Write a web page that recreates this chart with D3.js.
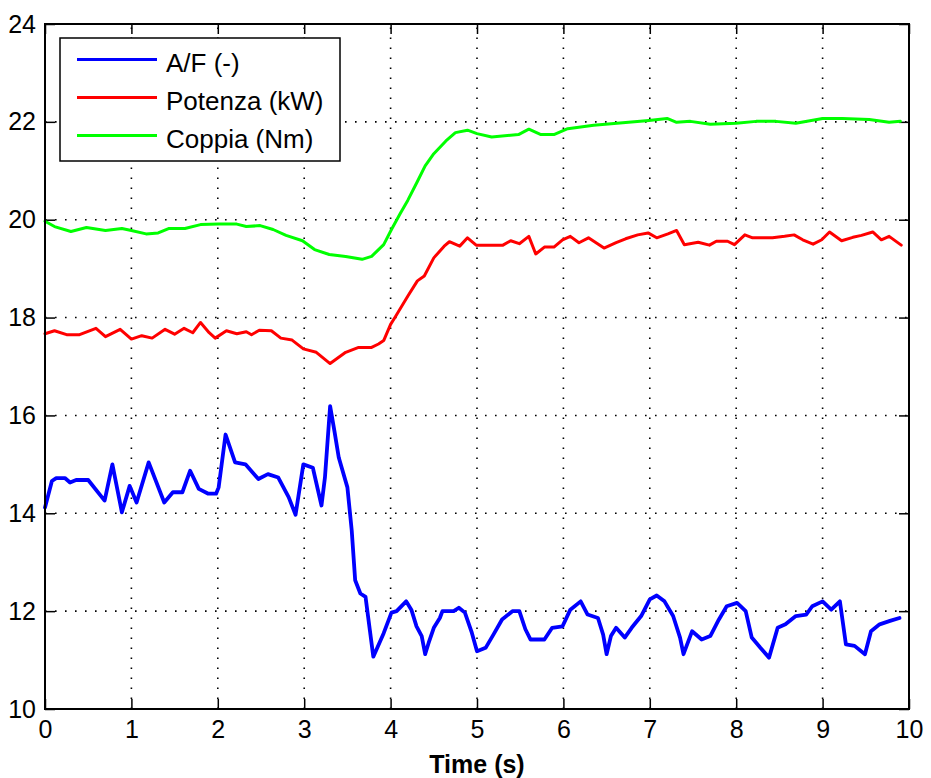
<!DOCTYPE html>
<html><head><meta charset="utf-8">
<script src="https://cdn.jsdelivr.net/npm/d3@7"></script>
<style>
body{margin:0;background:#fff;}
text{font-family:"Liberation Sans",Arial,Helvetica,sans-serif;fill:#000;}
</style>
</head><body>
<svg id="chart" width="931" height="778"></svg>
<script>
// ---------- data ----------
const xTickValues = [0,1,2,3,4,5,6,7,8,9,10];
const yTickValues = [10,12,14,16,18,20,22,24];
const xLabel = "Time (s)";
const seriesNames = ["A/F (-)", "Potenza (kW)", "Coppia (Nm)"];

const afTime   = [0,0.08,0.13,0.23,0.29,0.36,0.5,0.69,0.78,0.89,0.98,1.06,1.2,1.38,1.48,1.59,1.68,1.78,1.89,1.98,2.01,2.09,2.2,2.32,2.47,2.58,2.7,2.82,2.9,2.99,3.1,3.2,3.24,3.3,3.35,3.4,3.5,3.55,3.59,3.65,3.71,3.76,3.8,3.92,4.01,4.07,4.18,4.24,4.3,4.36,4.4,4.44,4.5,4.57,4.6,4.73,4.79,4.86,4.94,5.0,5.1,5.19,5.29,5.41,5.49,5.56,5.62,5.78,5.87,5.99,6.08,6.2,6.28,6.4,6.46,6.5,6.55,6.61,6.71,6.79,6.9,7.0,7.08,7.17,7.27,7.35,7.39,7.49,7.6,7.7,7.8,7.89,8.01,8.11,8.18,8.28,8.38,8.48,8.57,8.69,8.81,8.88,9.0,9.1,9.2,9.27,9.37,9.49,9.56,9.66,9.78,9.89];
const afValues = [14.12,14.66,14.72,14.72,14.63,14.68,14.68,14.26,15.0,14.02,14.56,14.22,15.04,14.22,14.43,14.43,14.87,14.5,14.4,14.4,14.53,15.61,15.04,15.0,14.7,14.8,14.73,14.33,13.97,15.0,14.93,14.16,14.73,16.19,15.68,15.14,14.53,13.65,12.63,12.36,12.29,11.61,11.07,11.55,11.97,12.0,12.2,12.03,11.69,11.49,11.12,11.35,11.66,11.86,12.0,12.0,12.07,11.97,11.56,11.18,11.25,11.52,11.83,12.0,12.0,11.63,11.42,11.42,11.66,11.69,12.03,12.2,11.93,11.86,11.52,11.12,11.49,11.66,11.46,11.66,11.9,12.24,12.32,12.2,11.9,11.46,11.12,11.59,11.42,11.49,11.83,12.1,12.17,12.0,11.46,11.25,11.05,11.66,11.73,11.9,11.93,12.1,12.2,12.03,12.2,11.32,11.29,11.12,11.59,11.73,11.8,11.86];

const potTime   = [0,0.11,0.25,0.4,0.59,0.7,0.87,1.0,1.12,1.24,1.39,1.5,1.61,1.71,1.8,1.9,1.97,2.1,2.22,2.33,2.39,2.48,2.62,2.73,2.86,2.99,3.14,3.3,3.48,3.63,3.78,3.86,3.92,4.0,4.05,4.2,4.31,4.39,4.5,4.62,4.68,4.8,4.89,4.99,5.3,5.39,5.49,5.6,5.68,5.78,5.89,5.99,6.08,6.18,6.29,6.47,6.61,6.72,6.86,6.98,7.08,7.21,7.31,7.4,7.56,7.69,7.77,7.9,7.98,8.1,8.19,8.42,8.56,8.67,8.77,8.89,8.99,9.08,9.22,9.35,9.45,9.58,9.68,9.77,9.91];
const potValues = [17.67,17.73,17.65,17.65,17.78,17.61,17.76,17.56,17.63,17.58,17.76,17.66,17.78,17.69,17.9,17.69,17.58,17.73,17.67,17.71,17.65,17.74,17.73,17.58,17.54,17.36,17.29,17.06,17.29,17.39,17.39,17.46,17.53,17.86,18.0,18.44,18.75,18.85,19.22,19.46,19.55,19.46,19.63,19.48,19.48,19.57,19.51,19.66,19.3,19.44,19.44,19.59,19.66,19.53,19.63,19.42,19.53,19.61,19.69,19.73,19.63,19.71,19.78,19.49,19.54,19.48,19.56,19.56,19.49,19.69,19.63,19.63,19.66,19.69,19.59,19.5,19.59,19.75,19.57,19.64,19.68,19.75,19.59,19.66,19.48];

const copTime   = [0,0.11,0.3,0.48,0.7,0.89,1.0,1.17,1.31,1.43,1.62,1.8,2.01,2.22,2.33,2.49,2.64,2.79,2.98,3.12,3.29,3.48,3.67,3.78,3.92,4.01,4.11,4.2,4.31,4.4,4.5,4.64,4.75,4.89,5.0,5.17,5.48,5.6,5.74,5.89,6.05,6.35,6.62,6.99,7.2,7.31,7.47,7.7,8.0,8.23,8.46,8.69,9.0,9.23,9.54,9.77,9.9];
const copValues = [19.97,19.86,19.76,19.84,19.78,19.82,19.78,19.71,19.73,19.82,19.82,19.9,19.91,19.91,19.86,19.88,19.8,19.68,19.57,19.39,19.29,19.25,19.19,19.25,19.49,19.8,20.12,20.4,20.78,21.1,21.35,21.61,21.78,21.83,21.76,21.69,21.74,21.85,21.74,21.74,21.86,21.93,21.97,22.03,22.07,21.99,22.01,21.95,21.97,22.01,22.01,21.97,22.07,22.07,22.05,21.99,22.01];

// ---------- drawing ----------
const W = 931, H = 778;
const margin = {left:45, right:22, top:24, bottom:69};
const iw = W - margin.left - margin.right;
const ih = H - margin.top - margin.bottom;
const colors = ["#0000ff", "#ff0000", "#00ff00"];
const widths = [3.8, 3, 3];

const svg = d3.select("#chart");
const g = svg.append("g").attr("transform", `translate(${margin.left},${margin.top})`);

const x = d3.scaleLinear().domain([0,10]).range([0, iw]);
const y = d3.scaleLinear().domain([10,24]).range([ih, 0]);

// grid
const grid = g.append("g").attr("stroke", "#000").attr("stroke-width", 1.6)
  .attr("stroke-dasharray", "1.6,8.4").attr("fill", "none");
xTickValues.slice(1, -1).forEach(v => {
  grid.append("line").attr("x1", x(v)).attr("x2", x(v)).attr("y1", ih).attr("y2", 0);
});
yTickValues.slice(1, -1).forEach(v => {
  grid.append("line").attr("x1", 0).attr("x2", iw).attr("y1", y(v)).attr("y2", y(v));
});

// axes with inward ticks
const fs = 25;
const axB = g.append("g").attr("transform", `translate(0,${ih})`)
  .call(d3.axisBottom(x).tickValues(xTickValues).tickFormat(d3.format("d")).tickSizeInner(-10).tickSizeOuter(0).tickPadding(14));
const axT = g.append("g")
  .call(d3.axisTop(x).tickValues(xTickValues).tickFormat("").tickSizeInner(-10).tickSizeOuter(0));
const axL = g.append("g")
  .call(d3.axisLeft(y).tickValues(yTickValues).tickFormat(d3.format("d")).tickSizeInner(-10).tickSizeOuter(0).tickPadding(9));
const axR = g.append("g").attr("transform", `translate(${iw},0)`)
  .call(d3.axisRight(y).tickValues(yTickValues).tickFormat("").tickSizeInner(-10).tickSizeOuter(0));
[axB, axT, axL, axR].forEach(a => {
  a.select(".domain").remove();
  a.selectAll(".tick line").attr("stroke", "#000").attr("stroke-width", 1.5);
  a.selectAll("text").attr("font-size", fs).attr("font-family", "Liberation Sans, Arial, sans-serif").attr("fill", "#000");
});
axB.selectAll(".tick text").attr("dy", "0.6em");

// series
const line = d3.line().x(d => x(d[0])).y(d => y(d[1]));
const series = [
  d3.zip(afTime, afValues),
  d3.zip(potTime, potValues),
  d3.zip(copTime, copValues)
];
series.forEach((s, i) => {
  g.append("path").datum(s).attr("d", line)
    .attr("fill", "none").attr("stroke", colors[i]).attr("stroke-width", widths[i])
    .attr("stroke-linejoin", "round").attr("stroke-linecap", "round");
});

// frame
g.append("rect").attr("x", 0).attr("y", 0).attr("width", iw).attr("height", ih)
  .attr("fill", "none").attr("stroke", "#000").attr("stroke-width", 2);

// x label
g.append("text").attr("x", iw / 2).attr("y", ih + 64).attr("text-anchor", "middle")
  .attr("font-size", 25).attr("font-weight", "bold").text(xLabel);

// legend
const lg = svg.append("g").attr("transform", "translate(60,38)");
lg.append("rect").attr("x", 0).attr("y", 0).attr("width", 280).attr("height", 123)
  .attr("fill", "#fff").attr("stroke", "#000").attr("stroke-width", 1.5);
seriesNames.forEach((name, i) => {
  const cy = 21.5 + i * 38;
  lg.append("line").attr("x1", 17).attr("x2", 97).attr("y1", cy).attr("y2", cy)
    .attr("stroke", colors[i]).attr("stroke-width", 3);
  lg.append("text").attr("x", 106).attr("y", cy + 12.5).attr("font-size", 26).text(name);
});
</script>
</body></html>
